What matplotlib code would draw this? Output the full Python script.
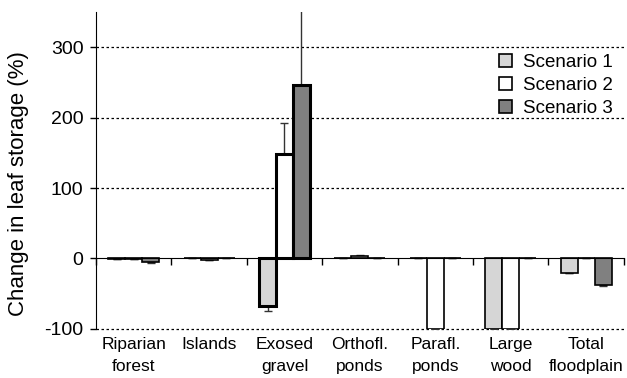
import numpy as np
import matplotlib.pyplot as plt

plt.rcParams['font.family'] = ['Liberation Sans', 'DejaVu Sans']
plt.rcParams['axes.unicode_minus'] = False

categories = ["Riparian\nforest", "Islands", "Exosed\ngravel", "Orthofl.\nponds",
              "Parafl.\nponds", "Large\nwood", "Total\nfloodplain"]
scenarios = ["Scenario 1", "Scenario 2", "Scenario 3"]
s1 = [-1, 0, -67, 0.5, 0, -100, -20]
s2 = [-1, -2, 148, 4, -100, -100, 1]
s3 = [-5, 0, 247, 0, 0, 0, -38]
e1 = [0, 0, 8, 0, 0, 0, 1]
e2 = [0, 0, 45, 1, 0, 0, 0]
e3 = [1, 0, 110, 0, 0, 0, 1]
colors = ["#d6d6d6", "#ffffff", "#808080"]

fig = plt.figure(figsize=(6.27, 3.78), dpi=100)
ax = fig.add_axes([0.153, 0.130, 0.842, 0.838])

x = np.arange(len(categories))
w = 0.225
for k, (vals, errs) in enumerate(zip([s1, s2, s3], [e1, e2, e3])):
    vals = np.array(vals, dtype=float)
    errs = np.array(errs, dtype=float)
    lw = [2.2 if i == 2 else 1.2 for i in range(len(vals))]
    ax.bar(x + (k - 1) * w, vals, w, color=colors[k], edgecolor="black",
           linewidth=lw, label=scenarios[k], zorder=3)
    lower = np.where(vals < 0, errs, 0)
    upper = np.where(vals >= 0, errs, 0)
    ax.errorbar(x + (k - 1) * w, vals, yerr=[lower, upper], fmt="none",
                ecolor="#333333", elinewidth=1, capsize=3, capthick=1, zorder=2)

# dotted reference lines
for g in [300, 200, 100, -100]:
    ax.axhline(g, color="black", linestyle=(0, (2, 2)), linewidth=0.9,
               zorder=1, clip_on=False)

ax.set_xlim(-0.5, len(categories) - 0.5)
ax.set_ylim(-100, 350)
ax.set_yticks([-100, 0, 100, 200, 300])
ax.tick_params(axis="y", labelsize=14, length=4, width=1, pad=5)
ax.set_ylabel("Change in leaf storage (%)", fontsize=16)
ax.yaxis.set_label_coords(-0.127, 0.46)

ax.spines["top"].set_visible(False)
ax.spines["right"].set_visible(False)
ax.spines["bottom"].set_position(("data", 0))
ax.spines["bottom"].set_zorder(4)
ax.set_xticks(np.arange(len(categories) + 1) - 0.5)
ax.tick_params(axis="x", length=5, width=1, labelbottom=False)

sec = ax.secondary_xaxis("bottom")
sec.set_xticks(x)
sec.set_xticklabels(categories, fontsize=12.5, linespacing=1.55)
sec.tick_params(length=0, pad=6)
sec.spines["bottom"].set_visible(False)

ax.legend(loc="upper right", bbox_to_anchor=(1.012, 0.92), frameon=False,
          fontsize=13.5, handlelength=0.7, handleheight=0.7, handletextpad=0.6,
          labelspacing=0.3)

fig.savefig("out.png", dpi=100)
